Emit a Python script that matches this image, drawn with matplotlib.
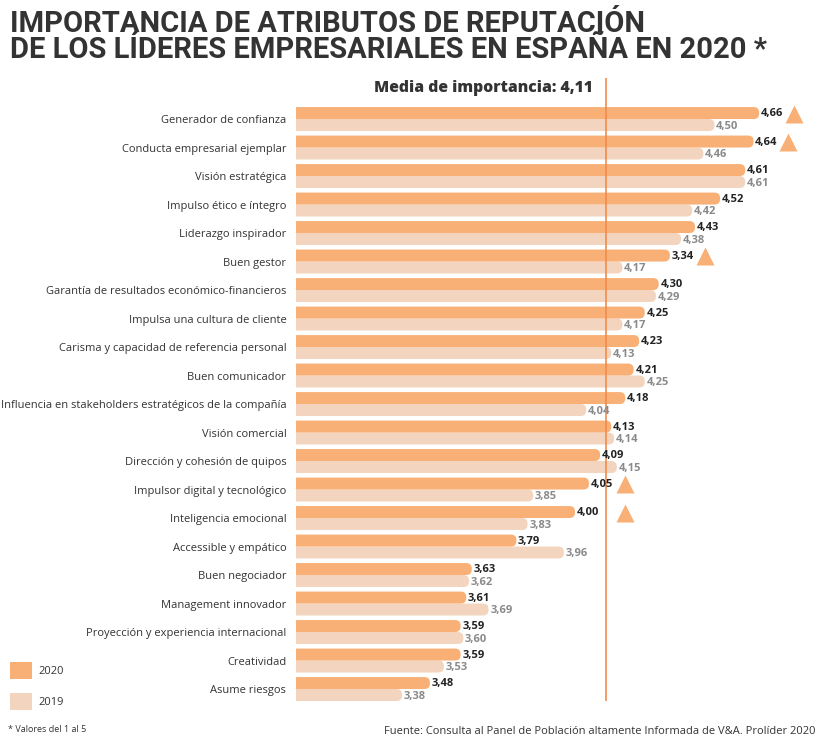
import matplotlib
matplotlib.use("Agg")
import matplotlib.pyplot as plt
from matplotlib.patches import FancyBboxPatch, Patch

categories = [
    "Generador de confianza", "Conducta empresarial ejemplar", "Visión estratégica",
    "Impulso ético e íntegro", "Liderazgo inspirador", "Buen gestor",
    "Garantía de resultados económico-financieros", "Impulsa una cultura de cliente",
    "Carisma y capacidad de referencia personal", "Buen comunicador",
    "Influencia en stakeholders estratégicos de la compañía", "Visión comercial",
    "Dirección y cohesión de quipos", "Impulsor digital y tecnológico",
    "Inteligencia emocional", "Accessible y empático", "Buen negociador",
    "Management innovador", "Proyección y experiencia internacional",
    "Creatividad", "Asume riesgos",
]
values_2020 = [4.66, 4.64, 4.61, 4.52, 4.43, 4.34, 4.30, 4.25, 4.23, 4.21, 4.18,
               4.13, 4.09, 4.05, 4.00, 3.79, 3.63, 3.61, 3.59, 3.59, 3.48]
labels_2020 = ["4,66", "4,64", "4,61", "4,52", "4,43", "3,34", "4,30", "4,25", "4,23",
               "4,21", "4,18", "4,13", "4,09", "4,05", "4,00", "3,79", "3,63", "3,61",
               "3,59", "3,59", "3,48"]
values_2019 = [4.50, 4.46, 4.61, 4.42, 4.38, 4.17, 4.29, 4.17, 4.13, 4.25, 4.04,
               4.14, 4.15, 3.85, 3.83, 3.96, 3.62, 3.69, 3.60, 3.53, 3.38]
trend_up = [True, True, False, False, False, True, False, False, False, False, False,
            False, False, True, True, False, False, False, False, False, False]
media = 4.11

C2020 = "#F9B076"
C2019 = "#F3D4BE"
CLINE = "#F08C4E"
DARK = "#333333"
GRAY = "#8A8A8A"

W, H = 823, 740
fig = plt.figure(figsize=(W / 100, H / 100), dpi=100)
ax = fig.add_axes([296 / W, (H - 701) / H, (W - 296) / W, (701 - 78) / H])

x0, x1 = 3.0, 3.0 + (W - 296) / 279.0
ax.set_xlim(x0, x1)
ax.set_ylim(20.42, -1.44)
aspect = 279.0 / 28.5
bh = 0.42
r = 5.5 / 279.0

for i, (v20, v19) in enumerate(zip(values_2020, values_2019)):
    p19 = FancyBboxPatch((x0 - 0.1, i), v19 - (x0 - 0.1), bh,
                         boxstyle=f"round,pad=0,rounding_size={r}",
                         mutation_aspect=aspect, fc=C2019, ec="none", zorder=2)
    ax.add_patch(p19)
    p20 = FancyBboxPatch((x0 - 0.1, i - bh), v20 - (x0 - 0.1), bh,
                         boxstyle=f"round,pad=0,rounding_size={r}",
                         mutation_aspect=aspect, fc=C2020, ec="none", zorder=3)
    ax.add_patch(p20)
    ax.text(v20 + 0.006, i - bh / 2 + 0.02, labels_2020[i], ha="left", va="center",
            fontsize=8, fontweight="bold", color="#222222", family="Open Sans", zorder=5)
    ax.text(v19 + 0.006, i + bh / 2 + 0.05, f"{v19:.2f}".replace(".", ","), ha="left",
            va="center", fontsize=8, fontweight="bold", color=GRAY, family="Open Sans",
            zorder=5)
    if trend_up[i]:
        tx = max(v20 + 0.125, media + 0.07)
        ax.plot(tx, i - bh / 2 + 0.02, marker="^", markersize=13, color=C2020,
                mec="none", zorder=5, clip_on=False)

ax.axvline(media, color=CLINE, lw=1.2, zorder=4)
ax.text(media - 0.045, -1.08, "Media de importancia: " + f"{media:.2f}".replace(".", ","),
        ha="right", va="center", fontsize=11.3, fontweight=800, color=DARK,
        family="Open Sans", clip_on=False)

ax.set_yticks(range(len(categories)))
ax.set_yticklabels(categories, fontsize=8.0, color=DARK, family="Open Sans")
ax.tick_params(axis="y", length=0, pad=7)
ax.set_xticks([])
for s in ax.spines.values():
    s.set_visible(False)
ax.patch.set_alpha(0)

fig.text(10 / W, 1 - 10 / H,
         "IMPORTANCIA DE ATRIBUTOS DE REPUTACIÓN\nDE LOS LÍDERES EMPRESARIALES EN ESPAÑA EN 2020 *",
         ha="left", va="top", fontsize=21, fontweight="bold", color=DARK,
         family=["Roboto", "DejaVu Sans"], linespacing=0.93)

handles = [Patch(facecolor=C2020, edgecolor="none", label="2020"),
           Patch(facecolor=C2019, edgecolor="none", label="2019")]
leg = fig.legend(handles=handles, loc="upper left", bbox_to_anchor=(0 / W, 1 - 652 / H),
                 frameon=False, handlelength=2.0, handleheight=2.0, labelspacing=1.2,
                 handletextpad=0.6, prop={"family": "Open Sans", "size": 8})
for t in leg.get_texts():
    t.set_color(DARK)

fig.text(8 / W, 1 - 729 / H, "* Valores del 1 al 5", ha="left", va="center",
         fontsize=6.5, color=DARK, family="Open Sans")
fig.text(815 / W, 1 - 731 / H,
         "Fuente: Consulta al Panel de Población altamente Informada de V&A. Prolíder 2020",
         ha="right", va="center", fontsize=8, color=DARK, family="Open Sans")

fig.savefig("out.png", dpi=100, facecolor="white")
